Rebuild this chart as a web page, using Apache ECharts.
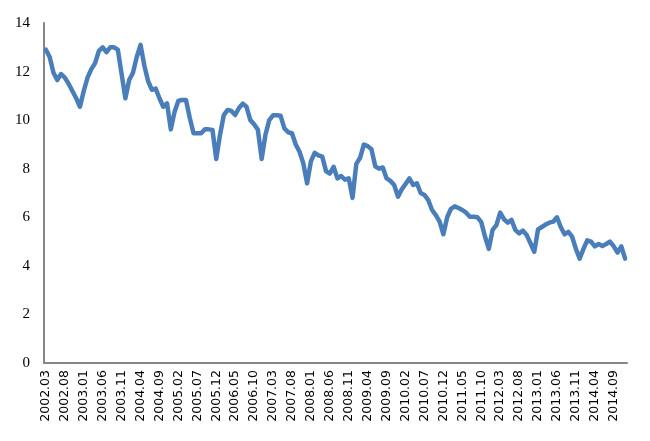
<!DOCTYPE html>
<html>
<head>
<meta charset="utf-8">
<script src="https://cdn.jsdelivr.net/npm/echarts@6/dist/echarts.min.js"></script>
<style>
html,body{margin:0;padding:0;background:#fff;}
#c{width:650px;height:441px;}
</style>
</head>
<body>
<div id="c"></div>
<script>
// Monthly values, 2002.03 - 2014.12
var v2002 = [12.9, 12.6, 11.95, 11.65, 11.9, 11.75, 11.5, 11.2, 10.9, 10.55]; // Mar-Dec
var v2003 = [11.2, 11.75, 12.1, 12.35, 12.85, 13.0, 12.8, 13.0, 13.0, 12.9, 11.9, 10.9];
var v2004 = [11.65, 11.95, 12.6, 13.1, 12.25, 11.6, 11.25, 11.3, 10.9, 10.55, 10.69, 9.62];
var v2005 = [10.35, 10.8, 10.83, 10.83, 10.1, 9.46, 9.46, 9.46, 9.62, 9.62, 9.6, 8.4];
var v2006 = [9.4, 10.21, 10.42, 10.38, 10.21, 10.5, 10.68, 10.55, 10.0, 9.83, 9.6, 8.4];
var v2007 = [9.4, 10.0, 10.2, 10.2, 10.18, 9.66, 9.5, 9.46, 9.0, 8.7, 8.22, 7.4];
var v2008 = [8.3, 8.65, 8.55, 8.5, 7.9, 7.8, 8.08, 7.6, 7.7, 7.55, 7.6, 6.8];
var v2009 = [8.2, 8.45, 9.0, 8.93, 8.8, 8.1, 8.0, 8.05, 7.6, 7.5, 7.33, 6.85];
var v2010 = [7.15, 7.37, 7.6, 7.33, 7.4, 7.0, 6.92, 6.71, 6.3, 6.09, 5.82, 5.3];
var v2011 = [6.0, 6.35, 6.45, 6.38, 6.3, 6.19, 6.02, 6.02, 6.0, 5.8, 5.2, 4.7];
var v2012 = [5.48, 5.68, 6.19, 5.92, 5.78, 5.89, 5.48, 5.34, 5.45, 5.27, 4.93, 4.58];
var v2013 = [5.5, 5.6, 5.7, 5.78, 5.82, 6.0, 5.6, 5.3, 5.4, 5.2, 4.7, 4.3];
var v2014 = [4.7, 5.05, 5.0, 4.8, 4.9, 4.82, 4.9, 5.0, 4.8, 4.55, 4.8, 4.3];

var startYear = 2002, startMonth = 3, endYear = 2014, endMonth = 12;
var yTicks = [0, 2, 4, 6, 8, 10, 12, 14];

var values = [].concat(v2002, v2003, v2004, v2005, v2006, v2007, v2008,
                       v2009, v2010, v2011, v2012, v2013, v2014);
var categories = [];
for (var y = startYear; y <= endYear; y++) {
  var m0 = (y === startYear) ? startMonth : 1;
  var m1 = (y === endYear) ? endMonth : 12;
  for (var m = m0; m <= m1; m++) {
    categories.push(y + '.' + (m < 10 ? '0' + m : '' + m));
  }
}

var chart = echarts.init(document.getElementById('c'));
chart.setOption({
  animation: false,
  backgroundColor: '#ffffff',
  grid: { left: 44, right: 23, top: 23, bottom: 78 },
  xAxis: {
    type: 'category',
    data: categories,
    boundaryGap: true,
    axisLine: { show: true, lineStyle: { color: '#868686', width: 2 } },
    axisTick: { show: false },
    axisLabel: {
      interval: 4,
      rotate: 90,
      margin: 7,
      color: '#000',
      fontFamily: 'DejaVu Sans, sans-serif',
      fontSize: 12.5
    },
    splitLine: { show: false }
  },
  yAxis: {
    type: 'value',
    min: yTicks[0],
    max: yTicks[yTicks.length - 1],
    interval: 2,
    axisLine: { show: true, lineStyle: { color: '#868686', width: 2 } },
    axisTick: { show: false },
    axisLabel: {
      margin: 14,
      color: '#000',
      fontFamily: 'Liberation Serif, serif',
      fontSize: 15
    },
    splitLine: { show: false }
  },
  series: [{
    type: 'line',
    data: values,
    showSymbol: false,
    symbol: 'none',
    smooth: false,
    lineStyle: { color: '#4A7EBB', width: 4.5, join: 'round', cap: 'round' },
    itemStyle: { color: '#4A7EBB' }
  }]
});
</script>
</body>
</html>
